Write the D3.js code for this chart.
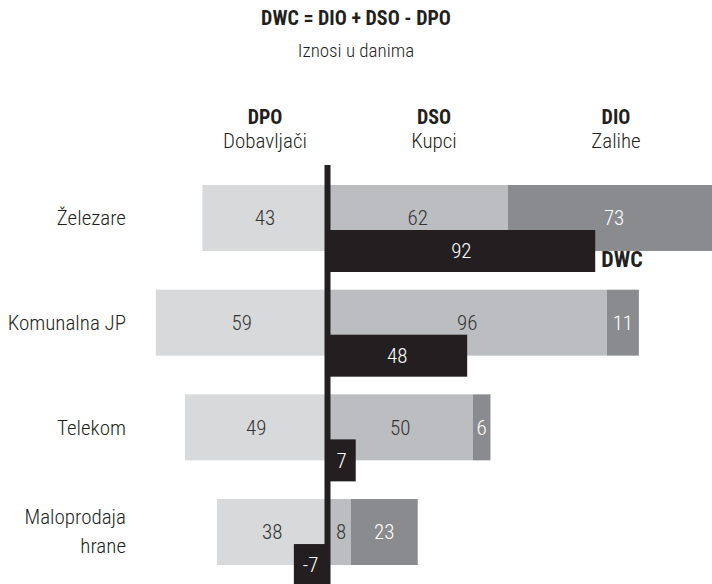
<!DOCTYPE html>
<html>
<head>
    <meta charset="utf-8">
    <title>DWC = DIO + DSO - DPO</title>
    <script src='https://d3js.org/d3.v7.min.js'></script>
    <style>
        html, body {
            margin: 0;
            padding: 0;
            background: #fff;
        }
        svg text {
            font-family: 'Roboto Condensed', 'Liberation Sans Narrow', 'DejaVu Sans Condensed', Roboto, sans-serif;
            font-stretch: condensed;
            font-weight: 300;
        }
    </style>
</head>
<body>
<div id="vis"></div>
<script>

var width = 712;
var height = 584;

// values in days
var categories = ["Železare", "Komunalna JP", "Telekom", "Maloprodaja hrane"];
var dpo = [43, 59, 49, 38];
var dso = [62, 96, 50, 8];
var dio = [73, 11, 6, 23];
var dwc = [92, 48, 7, -7];
var headers = [
    {key: "DPO", sub: "Dobavljači", x: 265},
    {key: "DSO", sub: "Kupci", x: 434},
    {key: "DIO", sub: "Zalihe", x: 616}
];

var colors = {dpo: "#d8d9db", dso: "#bcbdc0", dio: "#8a8b8e", dwc: "#231f20"};

var svg = d3.select('#vis')
    .append('svg')
    .attr('width', width)
    .attr('height', height);

var x = d3.scaleLinear().domain([-60, 110]).range([327.5 - 60 * 2.91, 327.5 + 110 * 2.91]);
var y = d3.scaleBand().domain(categories).range([185, 565]).paddingInner(0.37).paddingOuter(0);
var barH = y.bandwidth();
var dwcTop = 45, dwcH = 42;
var fs = 21;

// title
svg.append('text').attr('x', 356).attr('y', 25)
    .attr('text-anchor', 'middle').attr('font-size', 20).style('font-weight', 'bold')
    .attr('fill', '#231f20').text('DWC = DIO + DSO - DPO');
svg.append('text').attr('x', 356).attr('y', 57)
    .attr('text-anchor', 'middle').attr('font-size', 19)
    .attr('fill', '#231f20').text('Iznosi u danima');

// column headers
var hd = svg.selectAll('.hd').data(headers).enter().append('g').attr('class', 'hd');
hd.append('text').attr('x', function(d) {return d.x;}).attr('y', 124)
    .attr('text-anchor', 'middle').attr('font-size', 20).style('font-weight', 'bold')
    .attr('fill', '#231f20').text(function(d) {return d.key;});
hd.append('text').attr('x', function(d) {return d.x;}).attr('y', 148)
    .attr('text-anchor', 'middle').attr('font-size', fs)
    .attr('fill', '#231f20').text(function(d) {return d.sub;});

var rows = categories.map(function(c, i) {
    return {cat: c, dpo: dpo[i], dso: dso[i], dio: dio[i], dwc: dwc[i]};
});

// stacked segments
var segs = [];
rows.forEach(function(r) {
    segs.push({cat: r.cat, x0: -r.dpo, x1: 0, v: r.dpo, fill: colors.dpo, tc: '#333'});
    segs.push({cat: r.cat, x0: 0, x1: r.dso, v: r.dso, fill: colors.dso, tc: '#333'});
    segs.push({cat: r.cat, x0: r.dso, x1: r.dso + r.dio, v: r.dio, fill: colors.dio, tc: '#fff'});
});

svg.selectAll('.seg').data(segs).enter().append('rect').attr('class', 'seg')
    .attr('x', function(d) {return x(d.x0);})
    .attr('y', function(d) {return y(d.cat);})
    .attr('width', function(d) {return x(d.x1) - x(d.x0);})
    .attr('height', barH)
    .attr('fill', function(d) {return d.fill;});

svg.selectAll('.segl').data(segs).enter().append('text').attr('class', 'segl')
    .attr('x', function(d) {return (x(d.x0) + x(d.x1)) / 2 + (d.x0 == 0 && d.v < 15 ? 2 : 0);})
    .attr('y', function(d) {return y(d.cat) + barH / 2;})
    .attr('dy', '0.35em')
    .attr('text-anchor', 'middle').attr('font-size', fs)
    .attr('fill', function(d) {return d.tc;})
    .text(function(d) {return d.v;});

// zero line
svg.append('line')
    .attr('x1', x(0)).attr('x2', x(0))
    .attr('y1', 165).attr('y2', height)
    .attr('stroke', colors.dwc).attr('stroke-width', 6);

// DWC bars, widened to fit the label when the value is small
var dg = svg.selectAll('.dwc').data(rows).enter().append('g').attr('class', 'dwc');
var dl = dg.append('text')
    .attr('y', function(d) {return y(d.cat) + dwcTop + dwcH / 2;})
    .attr('dy', '0.35em')
    .attr('text-anchor', 'middle').attr('font-size', fs)
    .attr('fill', '#fff')
    .text(function(d) {return d.dwc;});
dl.each(function(d) {
    var tw = this.getComputedTextLength();
    var w = Math.max(Math.abs(x(d.dwc) - x(0)), tw + 18);
    d.bx = d.dwc >= 0 ? x(0) : x(0) - w;
    d.bw = w;
});
dg.insert('rect', 'text')
    .attr('x', function(d) {return d.bx;})
    .attr('y', function(d) {return y(d.cat) + dwcTop;})
    .attr('width', function(d) {return d.bw;})
    .attr('height', dwcH)
    .attr('fill', colors.dwc);
dl.attr('x', function(d) {return d.bx + d.bw / 2;});

svg.append('text')
    .attr('x', x(dwc[0]) + 6)
    .attr('y', y(categories[0]) + dwcTop + dwcH - 5)
    .attr('font-size', 22).style('font-weight', 'bold')
    .attr('fill', '#231f20').text('DWC');

// category labels
var cl = svg.selectAll('.cat').data(categories).enter().append('text').attr('class', 'cat')
    .attr('x', 126)
    .attr('y', function(d) {return y(d) + barH / 2;})
    .attr('text-anchor', 'end').attr('font-size', fs)
    .attr('fill', '#231f20');
cl.each(function(d) {
    var words = d == "Maloprodaja hrane" ? ["Maloprodaja", "hrane"] : [d];
    var t = d3.select(this);
    words.forEach(function(w, i) {
        t.append('tspan').attr('x', 126)
            .attr('dy', i == 0 ? (words.length > 1 ? '-0.38em' : '0.35em') : '1.4em')
            .text(w);
    });
});

</script>
</body>
</html>
